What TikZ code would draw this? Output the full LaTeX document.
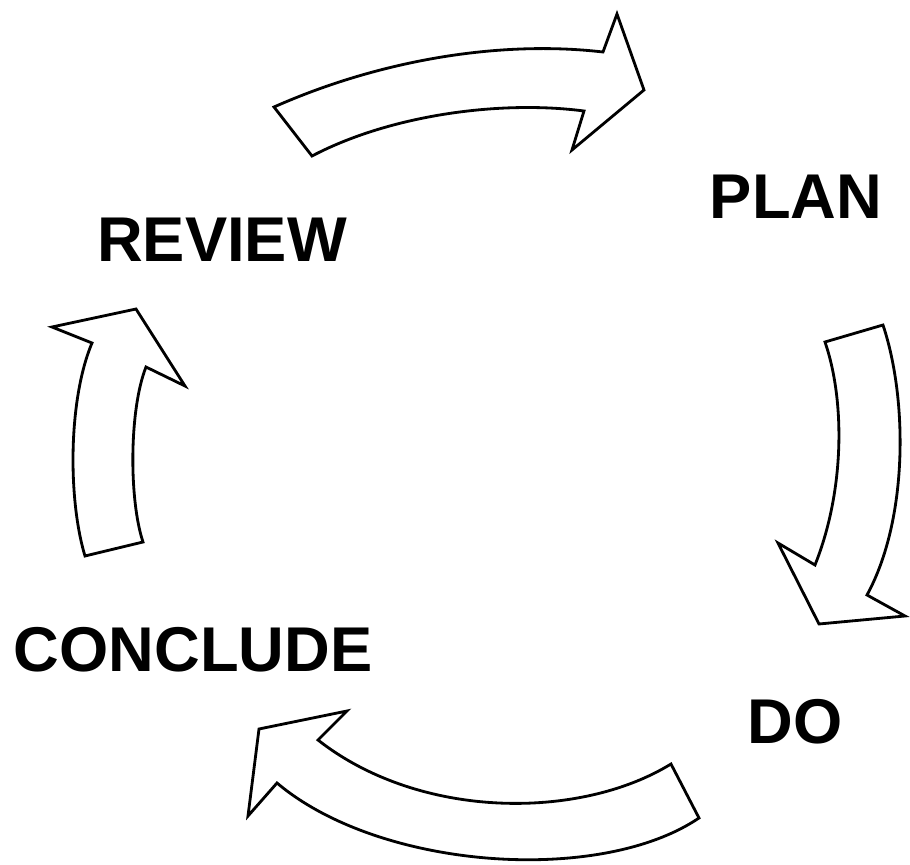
\documentclass[tikz,border=0pt]{standalone}
\usepackage{fontspec}
\setmainfont{Liberation Sans}
\usepackage{tikz}

\tikzset{
  cyclearrow/.style={draw=black, fill=white, line width=0.8pt, line join=miter},
  steplabel/.style={font=\bfseries\fontsize{18}{18}\selectfont, inner sep=0pt}
}

\begin{document}
\begin{tikzpicture}[x=0.1mm, y=-0.1mm]

\useasboundingbox (0,0) rectangle (910,865);

\draw[cyclearrow] (274,107) .. controls (380,60) and (500,40) .. (603,52) -- (617,14) -- (644,90) -- (572,150) -- (584,111) .. controls (500,100) and (390,115) .. (312,156) -- cycle;
\draw[cyclearrow] (825,342) -- (883,325) .. controls (908,400) and (908,520) .. (867,595) -- (905,616) -- (819,624) -- (778,543) -- (815,565) .. controls (845,490) and (845,400) .. (825,342) -- cycle;
\draw[cyclearrow] (671,764) -- (699,818) .. controls (600,885) and (380,870) .. (277,783) -- (248,816) -- (259,729) -- (347,711) -- (318,740) .. controls (420,820) and (580,820) .. (671,764) -- cycle;
\draw[cyclearrow] (85,556) -- (143,542) .. controls (129,500) and (129,410) .. (146,367) -- (185,386) -- (136,309) -- (52,327) -- (92,343) .. controls (68,400) and (68,500) .. (85,556) -- cycle;

\node[steplabel] (plan) at (796,197) {PLAN};
\node[steplabel] (do) at (795,722) {DO};
\node[steplabel] (conclude) at (193,650) {CONCLUDE};
\node[steplabel] (review) at (222,240) {REVIEW};

\end{tikzpicture}
\end{document}
